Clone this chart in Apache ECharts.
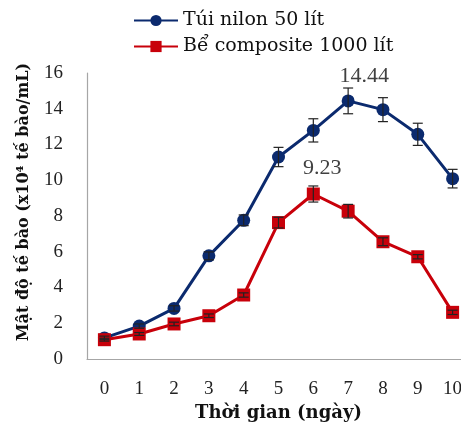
<!DOCTYPE html>
<html>
<head>
<meta charset="utf-8">
<script src="https://cdn.jsdelivr.net/npm/echarts@6/dist/echarts.min.js"></script>
<style>
  html, body { margin: 0; padding: 0; background: #fff; }
  #chart { width: 461px; height: 444px; }
</style>
</head>
<body>
<div id="chart"></div>
<script>
// Days of culture
const days = ['0', '1', '2', '3', '4', '5', '6', '7', '8', '9', '10'];

// Cell density (x10^4 cells/mL), 50 L plastic bag
const nilonMean = [1.18, 1.84, 2.83, 5.77, 7.76, 11.30, 12.79, 14.44, 13.95, 12.57, 10.09];
const nilonErr  = [0.10, 0.12, 0.15, 0.22, 0.30, 0.54, 0.65, 0.72, 0.67, 0.62, 0.52];

// Cell density (x10^4 cells/mL), 1000 L composite tank
const tankMean = [1.08, 1.40, 1.96, 2.42, 3.58, 7.63, 9.23, 8.27, 6.56, 5.72, 2.61];
const tankErr  = [0.08, 0.08, 0.10, 0.10, 0.12, 0.30, 0.45, 0.38, 0.22, 0.12, 0.12];

const seriesNames = ['Túi nilon 50 lít', 'Bể composite 1000 lít'];
const yAxisTitle = 'Mật độ tế bào (x10⁴ tế bào/mL)';
const xAxisTitle = 'Thời gian (ngày)';
const labelledDay = { nilon: 7, tank: 6 };

const yTicks = { min: 0, max: 16, interval: 2 };

const BLUE = '#0b2a6e';
const RED = '#c8000a';
const NUM_FONT = '"Liberation Serif", serif';
const TEXT_FONT = '"DejaVu Serif", "Liberation Serif", serif';

function errorBars(mean, err) {
  return {
    type: 'custom',
    silent: true,
    z: 5,
    data: mean.map((m, i) => [i, m - err[i], m + err[i]]),
    renderItem: function (params, api) {
      const lo = api.coord([api.value(0), api.value(1)]);
      const hi = api.coord([api.value(0), api.value(2)]);
      const hw = 5;
      const style = { stroke: '#222', lineWidth: 1.2, fill: null };
      return {
        type: 'group',
        children: [
          { type: 'line', shape: { x1: lo[0], y1: lo[1], x2: hi[0], y2: hi[1] }, style },
          { type: 'line', shape: { x1: lo[0] - hw, y1: lo[1], x2: lo[0] + hw, y2: lo[1] }, style },
          { type: 'line', shape: { x1: hi[0] - hw, y1: hi[1], x2: hi[0] + hw, y2: hi[1] }, style }
        ]
      };
    }
  };
}

function peakLabel(idx) {
  return function (p) { return p.dataIndex === idx ? p.value.toFixed(2) : ''; };
}

const chart = echarts.init(document.getElementById('chart'));
chart.setOption({
  animation: false,
  backgroundColor: '#ffffff',
  legend: {
    orient: 'vertical',
    left: 133,
    top: 11,
    padding: 0,
    itemGap: 7,
    itemWidth: 44,
    itemHeight: 14,
    textStyle: { fontFamily: TEXT_FONT, fontSize: 19, color: '#111' },
    data: seriesNames
  },
  graphic: [{
    type: 'text',
    x: 24,
    y: 202,
    rotation: Math.PI / 2,
    style: {
      text: yAxisTitle,
      fontFamily: TEXT_FONT,
      fontSize: 16,
      fontWeight: 'bold',
      fill: '#111',
      align: 'center',
      verticalAlign: 'middle'
    }
  }],
  grid: { left: 87, right: -9, top: 73, bottom: 85, outerBoundsMode: 'none', containLabel: false },
  xAxis: {
    type: 'category',
    data: days,
    boundaryGap: true,
    axisLine: { lineStyle: { color: '#a6a6a6', width: 1.2 } },
    axisTick: { show: false },
    axisLabel: { fontFamily: NUM_FONT, fontSize: 19, color: '#222', margin: 21 },
    name: xAxisTitle,
    nameLocation: 'middle',
    nameGap: 43,
    nameTextStyle: { fontFamily: TEXT_FONT, fontSize: 18, fontWeight: 'bold', color: '#111' }
  },
  yAxis: {
    type: 'value',
    min: yTicks.min,
    max: yTicks.max,
    interval: yTicks.interval,
    splitLine: { show: false },
    axisLine: { show: true, lineStyle: { color: '#a6a6a6', width: 1.2 } },
    axisTick: { show: false },
    axisLabel: { fontFamily: NUM_FONT, fontSize: 19, color: '#222', margin: 24 }
  },
  series: [
    {
      name: seriesNames[0],
      type: 'line',
      data: nilonMean,
      symbol: 'circle',
      symbolSize: 13,
      z: 3,
      lineStyle: { color: BLUE, width: 3 },
      itemStyle: { color: BLUE },
      label: {
        show: true,
        position: 'top',
        distance: 7,
        offset: [16, 0],
        fontFamily: NUM_FONT,
        fontSize: 22,
        color: '#404040',
        formatter: peakLabel(labelledDay.nilon)
      }
    },
    {
      name: seriesNames[1],
      type: 'line',
      data: tankMean,
      symbol: 'rect',
      symbolSize: 13,
      z: 3,
      lineStyle: { color: RED, width: 3 },
      itemStyle: { color: RED },
      label: {
        show: true,
        position: 'top',
        distance: 8,
        offset: [9, 0],
        fontFamily: NUM_FONT,
        fontSize: 22,
        color: '#404040',
        formatter: peakLabel(labelledDay.tank)
      }
    },
    errorBars(nilonMean, nilonErr),
    errorBars(tankMean, tankErr)
  ]
});
</script>
</body>
</html>
